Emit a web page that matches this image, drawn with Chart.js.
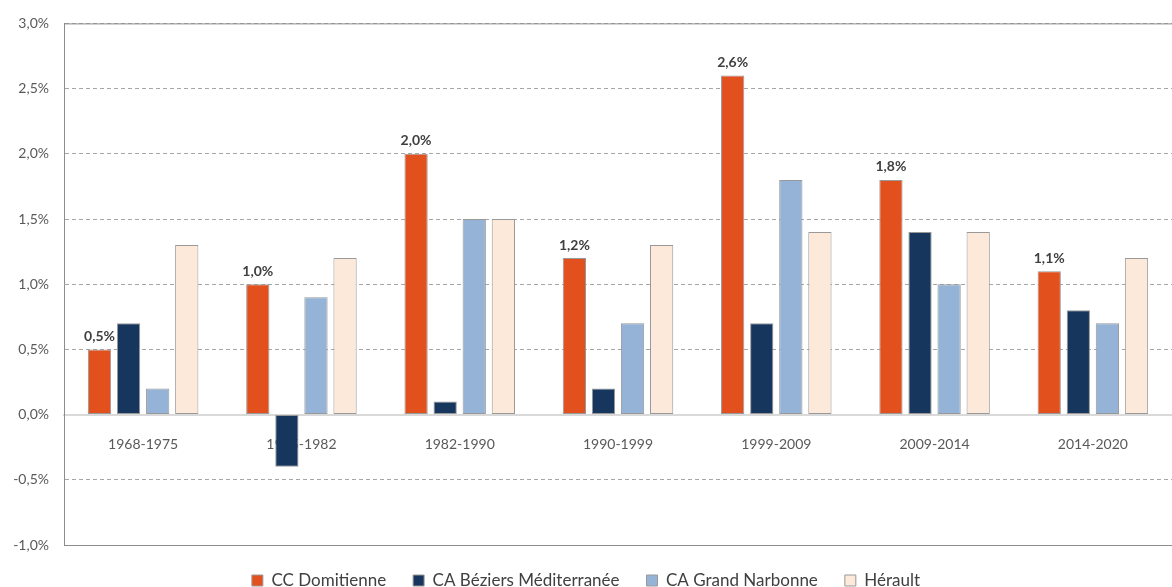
<!DOCTYPE html>
<html>
<head>
<meta charset="utf-8">
<script src="https://cdn.jsdelivr.net/npm/chart.js@4"></script>
<style>
  html, body { margin: 0; padding: 0; background: #fff; }
  #wrap { width: 1172px; height: 587px; }
</style>
</head>
<body>
<div id="wrap"><canvas id="chart"></canvas></div>
<script>
const periods = ["1968-1975", "1975-1982", "1982-1990", "1990-1999", "1999-2009", "2009-2014", "2014-2020"];

const domitienne = [0.5, 1.0, 2.0, 1.2, 2.6, 1.8, 1.1];
const beziers = [0.7, -0.4, 0.1, 0.2, 0.7, 1.4, 0.8];
const narbonne = [0.2, 0.9, 1.5, 0.7, 1.8, 1.0, 0.7];
const herault = [1.3, 1.2, 1.5, 1.3, 1.4, 1.4, 1.2];

const seriesNames = ["CC Domitienne", "CA Béziers Méditerranée", "CA Grand Narbonne", "Hérault"];
const seriesColors = ["#e2501e", "#17365d", "#95b3d7", "#fde9d9"];

const yTicks = [-1.0, -0.5, 0.0, 0.5, 1.0, 1.5, 2.0, 2.5, 3.0];

const fontFam = "Lato, 'Liberation Sans', sans-serif";

function fmt(v) {
  return v.toFixed(1).replace(".", ",") + "%";
}

/* labels above the first series, and solid frame lines */
const extras = {
  id: "extras",
  afterDatasetsDraw(chart) {
    const {ctx, chartArea} = chart;
    ctx.save();
    ctx.strokeStyle = "#8c8c8c";
    ctx.lineWidth = 1;
    ctx.beginPath();
    ctx.moveTo(chartArea.left, chartArea.bottom + 0.5);
    ctx.lineTo(chartArea.right, chartArea.bottom + 0.5);
    ctx.moveTo(chartArea.left, chartArea.top + 0.5);
    ctx.lineTo(chartArea.right, chartArea.top + 0.5);
    ctx.stroke();

    const meta = chart.getDatasetMeta(0);
    ctx.font = "bold 14px " + fontFam;
    ctx.fillStyle = "#404040";
    ctx.textAlign = "center";
    ctx.textBaseline = "bottom";
    meta.data.forEach((bar, i) => {
      ctx.fillText(fmt(domitienne[i]), bar.x, bar.y - 6);
    });
    ctx.restore();
  }
};

const datasets = [domitienne, beziers, narbonne, herault].map((vals, i) => ({
  label: seriesNames[i],
  data: vals,
  backgroundColor: seriesColors[i],
  borderColor: "#999999",
  borderWidth: 1,
  borderSkipped: false,
  barPercentage: 0.8,
  categoryPercentage: 0.735
}));

new Chart(document.getElementById("chart"), {
  type: "bar",
  data: { labels: periods, datasets: datasets },
  options: {
    responsive: true,
    maintainAspectRatio: false,
    animation: false,
    layout: { padding: { top: 12, right: 0, left: 0, bottom: 0 } },
    plugins: {
      tooltip: { enabled: false },
      legend: {
        position: "bottom",
        maxHeight: 42,
        labels: {
          font: { family: fontFam, size: 17 },
          color: "#404040",
          boxWidth: 11,
          boxHeight: 11,
          padding: 27,
          generateLabels(chart) {
            return chart.data.datasets.map((ds, i) => ({
              text: ds.label,
              fillStyle: ds.backgroundColor,
              strokeStyle: "#999999",
              lineWidth: 1,
              fontColor: "#404040",
              datasetIndex: i
            }));
          }
        }
      }
    },
    scales: {
      x: {
        position: { y: 0 },
        z: 1,
        grid: { display: false },
        border: { display: true, color: "#d9d9d9", width: 2 },
        ticks: {
          color: "#595959",
          font: { family: fontFam, size: 14 },
          padding: 13
        }
      },
      y: {
        min: -1.0,
        max: 3.0,
        afterBuildTicks(scale) {
          scale.ticks = yTicks.map(v => ({ value: v }));
        },
        afterFit(scale) {
          scale.width = 64;
        },
        grid: {
          color: "#a6a6a6",
          drawTicks: false,
          lineWidth: 1
        },
        border: { display: true, color: "#8c8c8c", width: 1, dash: [4, 3] },
        ticks: {
          color: "#595959",
          font: { family: fontFam, size: 14 },
          padding: 15,
          callback: v => fmt(v)
        }
      }
    }
  },
  plugins: [extras]
});
</script>
</body>
</html>
